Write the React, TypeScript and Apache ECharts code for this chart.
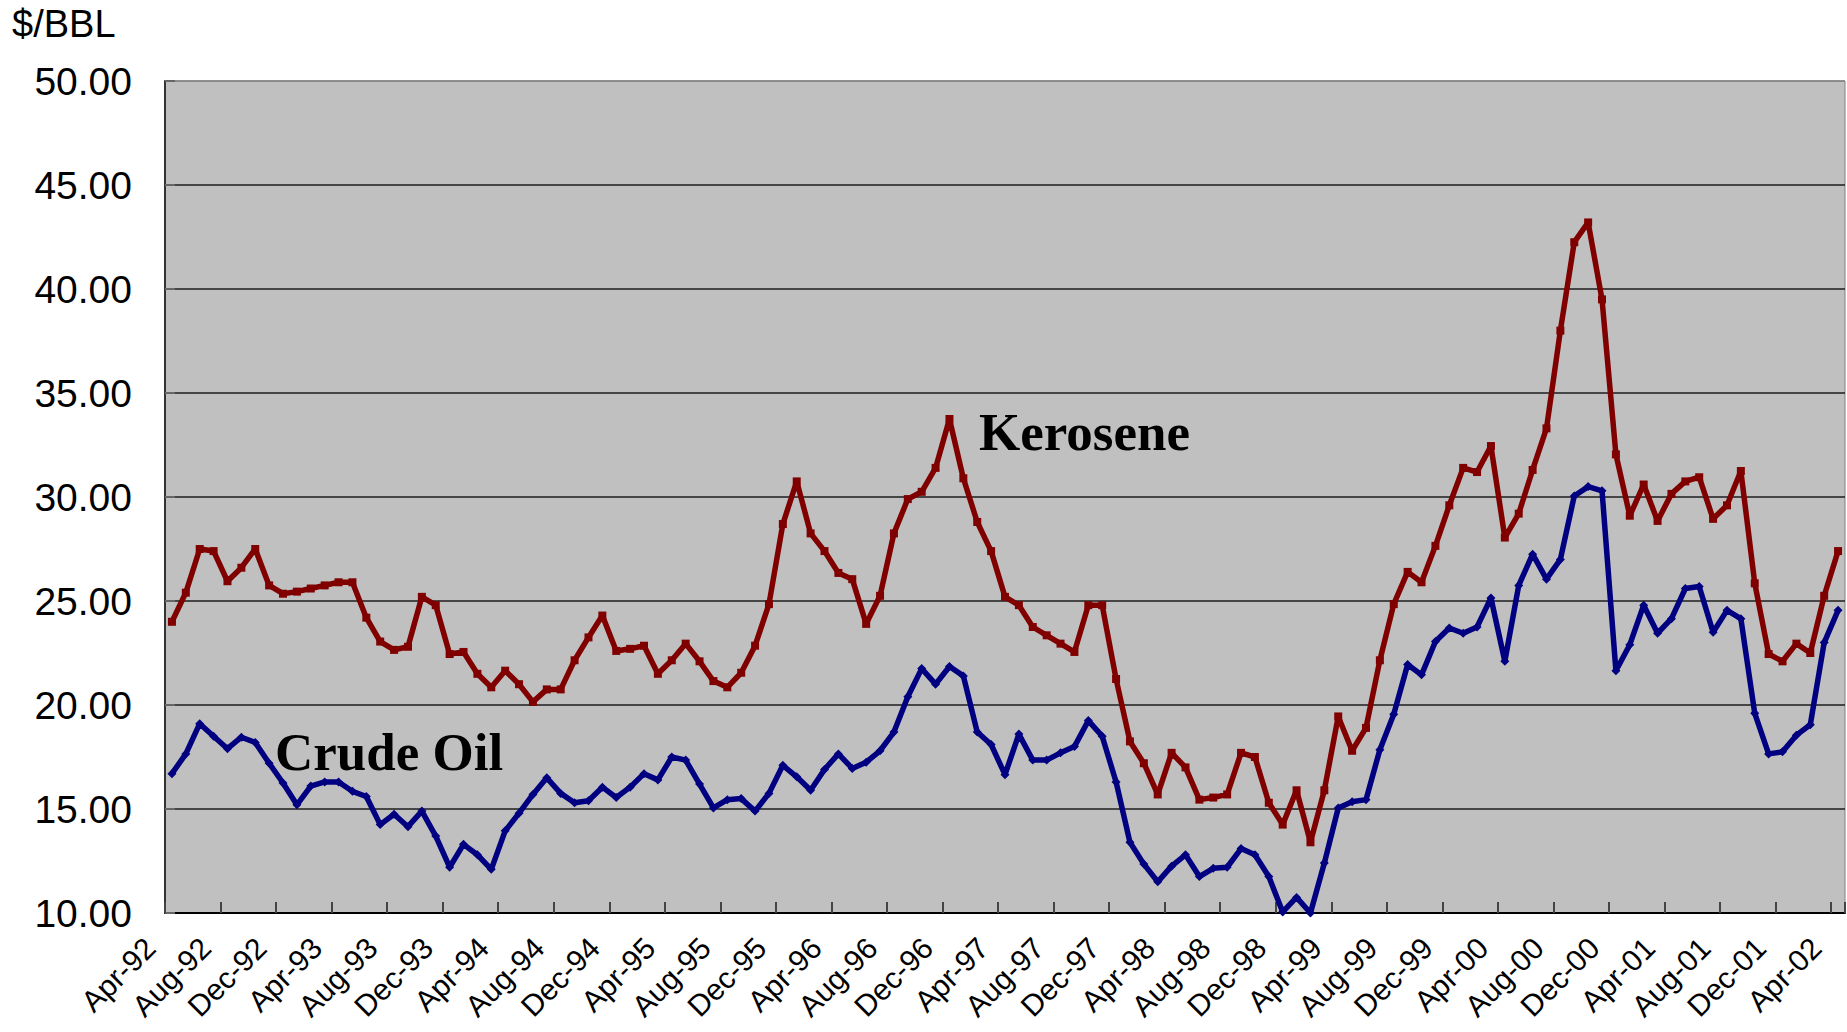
import React, { useEffect, useRef } from "react";
import * as echarts from "echarts";

const MONTHS = ["Jan", "Feb", "Mar", "Apr", "May", "Jun", "Jul", "Aug", "Sep", "Oct", "Nov", "Dec"];
// Monthly categories Apr-92 .. Apr-02
const categories: string[] = [];
for (let k = 0; k < 121; k++) {
  const m = (3 + k) % 12;
  const y = 92 + Math.floor((3 + k) / 12);
  categories.push(`${MONTHS[m]}-${String(y % 100).padStart(2, "0")}`);
}

const yTicks = [10, 15, 20, 25, 30, 35, 40, 45, 50];

const kerosene = [
  24.0, 25.4, 27.5, 27.4, 25.95, 26.6, 27.5, 25.75, 25.35, 25.45, 25.6, 25.75,
  25.9, 25.9, 24.2, 23.05, 22.65, 22.8, 25.2, 24.8, 22.45, 22.55, 21.5, 20.85,
  21.65, 21.0, 20.15, 20.75, 20.75, 22.15, 23.25, 24.3, 22.6, 22.7, 22.85, 21.5,
  22.15, 22.95, 22.1, 21.15, 20.85, 21.55, 22.85, 24.85, 28.7, 30.75, 28.25, 27.4,
  26.35, 26.05, 23.9, 25.25, 28.25, 29.9, 30.25, 31.4, 33.75, 30.9, 28.8, 27.4,
  25.2, 24.8, 23.75, 23.35, 22.95, 22.55, 24.8, 24.8, 21.25, 18.25, 17.2, 15.7,
  17.7, 17.0, 15.45, 15.55, 15.7, 17.7, 17.5, 15.3, 14.25, 15.9, 13.4, 15.9,
  19.45, 17.8, 18.9, 22.15, 24.85, 26.4, 25.9, 27.65, 29.6, 31.4, 31.2, 32.45,
  28.05, 29.2, 31.3, 33.3, 38.0, 42.25, 43.2, 39.5, 32.05, 29.1, 30.6, 28.85,
  30.15, 30.75, 30.95, 28.95, 29.6, 31.25, 25.85, 22.45, 22.1, 22.95, 22.5, 25.25,
  27.4,
];

const crudeOil = [
  16.7, 17.65, 19.1, 18.5, 17.9, 18.45, 18.2, 17.2, 16.25, 15.2, 16.1, 16.3,
  16.3, 15.85, 15.6, 14.25, 14.75, 14.15, 14.9, 13.7, 12.2, 13.3, 12.8, 12.1,
  13.95, 14.8, 15.7, 16.5, 15.75, 15.3, 15.4, 16.05, 15.55, 16.05, 16.7, 16.4,
  17.5, 17.35, 16.2, 15.05, 15.45, 15.5, 14.9, 15.75, 17.1, 16.55, 15.9, 16.9,
  17.65, 16.95, 17.25, 17.8, 18.7, 20.4, 21.75, 21.0, 21.85, 21.4, 18.7, 18.1,
  16.65, 18.6, 17.35, 17.35, 17.7, 18.0, 19.25, 18.5, 16.3, 13.4, 12.35, 11.5,
  12.25, 12.8, 11.75, 12.15, 12.2, 13.1, 12.8, 11.75, 10.05, 10.75, 10.0, 12.4,
  15.05, 15.35, 15.45, 17.85, 19.55, 21.95, 21.45, 23.05, 23.7, 23.45, 23.75, 25.15,
  22.1, 25.75, 27.25, 26.05, 27.0, 30.05, 30.5, 30.3, 21.65, 22.9, 24.8, 23.45,
  24.15, 25.6, 25.7, 23.5, 24.55, 24.15, 19.6, 17.65, 17.75, 18.55, 19.05, 23.0,
  24.55,
];

const SANS = "'Liberation Sans', Arial, sans-serif";
const SERIF = "'Liberation Serif', 'Times New Roman', serif";

export default function App() {
  const ref = useRef<HTMLDivElement>(null);

  useEffect(() => {
    if (!ref.current) return;
    const chart = echarts.init(ref.current, undefined, { renderer: "svg" });
    const splitColors = yTicks.map((t) => (t === 50 ? "#808080" : "#1e1e1e"));
    chart.setOption({
      animation: false,
      backgroundColor: "#ffffff",
      grid: {
        left: 165,
        top: 81,
        right: 2,
        bottom: 119,
        outerBoundsMode: "none",
        containLabel: false,
        show: true,
        backgroundColor: "#c0c0c0",
        borderColor: "#808080",
        borderWidth: 1,
      },
      xAxis: {
        type: "category",
        data: categories,
        boundaryGap: true,
        axisLine: { show: true, lineStyle: { color: "#000", width: 2 } },
        axisTick: {
          show: true,
          inside: true,
          length: 11,
          interval: 3,
          lineStyle: { color: "#444", width: 2 },
        },
        axisLabel: {
          interval: 3,
          rotate: 45,
          fontSize: 30,
          color: "#000",
          fontFamily: SANS,
          margin: 29,
          verticalAlign: "bottom",
          formatter: (v: string) => `{a|${v}}`,
          rich: {
            a: {
              fontSize: 30,
              color: "#000",
              fontFamily: SANS,
              padding: [0, 16, 0, 0],
            },
          },
        },
        splitLine: { show: false },
      },
      yAxis: {
        type: "value",
        min: yTicks[0],
        max: yTicks[yTicks.length - 1],
        interval: 5,
        axisLine: { show: true, lineStyle: { color: "#333", width: 2 } },
        axisTick: {
          show: true,
          inside: true,
          length: 10,
          lineStyle: { color: "#666", width: 2 },
        },
        axisLabel: {
          formatter: (v: number) => v.toFixed(2),
          fontSize: 39,
          color: "#000",
          fontFamily: SANS,
          margin: 33,
        },
        splitLine: { show: true, lineStyle: { color: splitColors, width: 1.5 } },
      },
      series: [
        {
          name: "Kerosene",
          type: "line",
          data: kerosene,
          symbol: "rect",
          symbolSize: 8,
          clip: false,
          itemStyle: { color: "#800000" },
          lineStyle: { color: "#800000", width: 5.5 },
        },
        {
          name: "Crude Oil",
          type: "line",
          data: crudeOil,
          symbol: "diamond",
          symbolSize: 9,
          clip: false,
          itemStyle: { color: "#000080" },
          lineStyle: { color: "#000080", width: 5.5 },
        },
      ],
      graphic: [
        {
          type: "text",
          x: 12,
          y: 24,
          style: {
            text: "$/BBL",
            fontSize: 38,
            fontFamily: SANS,
            fill: "#000",
            align: "left",
            verticalAlign: "middle",
          },
        },
        {
          type: "text",
          x: 979,
          y: 432,
          z: 10,
          style: {
            text: "Kerosene",
            fontSize: 53,
            fontWeight: "bold",
            fontFamily: SERIF,
            fill: "#000",
            align: "left",
            verticalAlign: "middle",
          },
        },
        {
          type: "text",
          x: 275,
          y: 752,
          z: 10,
          style: {
            text: "Crude Oil",
            fontSize: 53,
            fontWeight: "bold",
            fontFamily: SERIF,
            fill: "#000",
            align: "left",
            verticalAlign: "middle",
          },
        },
      ],
    });
    return () => chart.dispose();
  }, []);

  return (
    <div
      ref={ref}
      style={{ position: "fixed", left: 0, top: 0, width: 1847, height: 1032 }}
    />
  );
}
